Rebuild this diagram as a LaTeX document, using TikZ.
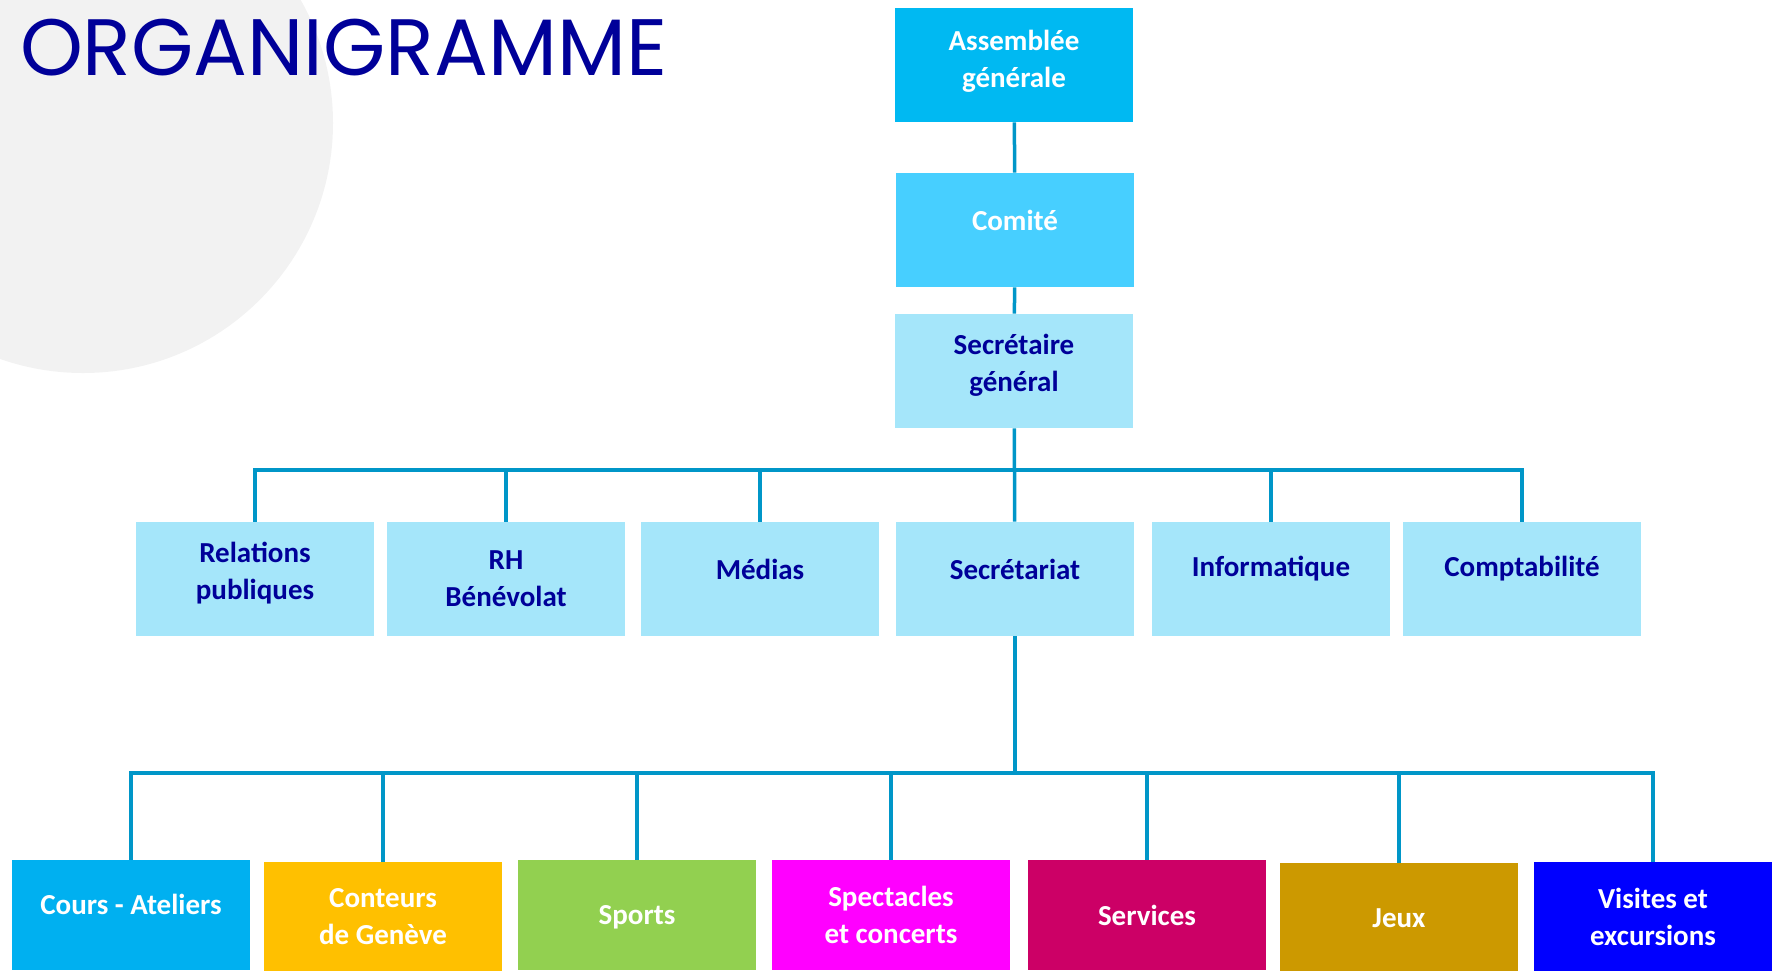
\documentclass[tikz,border=0pt]{standalone}
\usepackage{fontspec}
\setmainfont{Carlito}
\newfontfamily\titlefont{Poppins}
\definecolor{lineblue}{RGB}{0,150,200}
\definecolor{textblue}{RGB}{0,0,153}
\definecolor{assemblee}{RGB}{0,185,242}
\definecolor{comite}{RGB}{71,207,255}
\definecolor{lightbox}{RGB}{165,230,250}
\definecolor{cours}{RGB}{0,176,240}
\definecolor{conteurs}{RGB}{255,192,0}
\definecolor{sports}{RGB}{146,208,80}
\definecolor{spectacles}{RGB}{255,0,255}
\definecolor{services}{RGB}{204,0,102}
\definecolor{jeux}{RGB}{204,153,0}
\definecolor{visites}{RGB}{0,0,255}
\tikzset{
  unit/.style={minimum width=119pt,minimum height=57pt,inner sep=2pt,align=center,
    font=\fontsize{14.5}{18.5}\selectfont\bfseries},
  toplevel/.style={unit,fill=#1,text=white},
  dept/.style={unit,fill=lightbox,text=textblue},
  activity/.style={unit,fill=#1,text=white,minimum height=55pt},
  link/.style={draw=lineblue,line width=1.75pt},
  lift/.style={text depth=#1},
}
\begin{document}
\begin{tikzpicture}[x=0.5pt,y=-0.5pt]
\useasboundingbox (0,0) rectangle (1775,970);
\clip (0,0) rectangle (1775,970);
\fill[black!5] (83,123) circle (125pt);
\node[anchor=base west,text=textblue,font=\titlefont\fontsize{40}{40}\selectfont] (title) at (13,75) {ORGANIGRAMME};
% direction
\node[toplevel=assemblee,lift=6.5pt] (ag) at (1014,65) {Assemblée\\générale};
\node[toplevel=comite,lift=10pt] (comite) at (1015,230) {Comité};
\node[dept,lift=8pt] (sg) at (1014,371) {Secrétaire\\général};
\draw[link] (ag) -- (comite);
\draw[link] (comite) -- (sg);
% services
\node[dept,lift=8.5pt] (rp) at (255,579) {Relations\\publiques};
\node[dept] (rh) at (506,579) {RH\\Bénévolat};
\node[dept,lift=10pt] (medias) at (760,579) {Médias};
\node[dept,lift=10pt] (secr) at (1015,579) {Secrétariat};
\node[dept,lift=12.9pt] (info) at (1271,579) {Informatique};
\node[dept,lift=12.9pt] (compta) at (1522,579) {Comptabilité};
\coordinate (bus1) at (1015,470);
\draw[link] (sg) -- (secr);
\draw[link] (rp.north) |- (bus1) -| (compta.north);
\foreach \n in {rh,medias,info}
  \draw[link] (\n.north) -- (\n.north |- bus1);
% activites
\node[activity=cours,lift=11pt] (cours) at (131,915) {Cours - Ateliers};
\node[activity=conteurs] (conteurs) at (383,917) {Conteurs\\de Genève};
\node[activity=sports,lift=0pt] (sports) at (637,915) {Sports};
\node[activity=spectacles] (spect) at (891,915) {Spectacles\\et concerts};
\node[activity=services] (serv) at (1147,915) {Services};
\node[activity=jeux] (jeux) at (1399,918) {Jeux};
\node[activity=visites] (visites) at (1653,917) {Visites et\\excursions};
\coordinate (bus2) at (1015,773);
\draw[link] (secr) -- (bus2);
\draw[link] (cours.north) |- (bus2) -| (visites.north);
\foreach \n in {conteurs,sports,spect,serv,jeux}
  \draw[link] (\n.north) -- (\n.north |- bus2);
\end{tikzpicture}
\end{document}
